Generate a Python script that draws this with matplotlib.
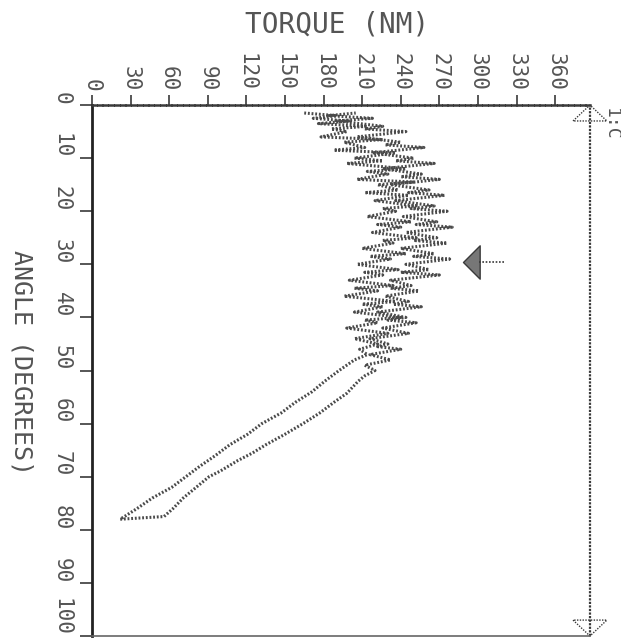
import numpy as np
import matplotlib.pyplot as plt
from matplotlib.path import Path

# torque vs angle (outgoing and return branch)
ang_out = [1.5, 2, 2.5, 3, 3.5, 4, 4.5, 5, 6, 6.5, 7, 8, 8.5, 9, 10, 10.5, 11, 12, 12.5,
           13, 14, 14.5, 15, 16, 16.5, 17, 18, 19, 19.5, 20, 21, 22, 22.5, 23, 24, 25,
           25.5, 26, 27, 28, 28.5, 29, 30, 31, 31.5, 32, 33, 34, 34.5, 35, 36, 37, 37.5,
           38, 39, 40, 40.5, 41, 42, 43, 44, 45, 46, 47, 48, 49, 50, 52, 54, 56, 58, 60,
           62, 64, 66, 68, 70, 72, 74, 76, 78]
torque_out = [165, 190, 172, 200, 176, 214, 186, 198, 178, 226, 196, 212, 188, 236, 204,
              226, 198, 244, 214, 230, 206, 250, 222, 238, 212, 246, 220, 252, 226, 236,
              214, 248, 222, 240, 218, 252, 226, 234, 210, 244, 216, 232, 206, 238, 212,
              226, 200, 234, 204, 222, 196, 236, 210, 226, 204, 240, 212, 222, 198, 230,
              204, 222, 208, 214, 204, 198, 192, 181, 171, 158, 147, 132, 121, 107, 96,
              84, 73, 62, 47, 35, 22]

ang_back = [78, 77.5, 76, 74, 72.6, 70, 68.9, 67, 65.5, 64, 62, 60, 58, 56, 54.3, 52, 51,
            50, 49, 48, 47, 46, 45.5, 45, 44, 43, 42, 41, 40.5, 40, 39, 38, 37.5, 37, 36,
            35, 34.5, 34, 33, 32, 31.5, 31, 30, 29, 28.5, 28, 27, 26, 25.5, 25, 24, 23,
            22.5, 22, 21, 20, 19.5, 19, 18, 17, 16.5, 16, 15, 14, 13.5, 13, 12, 11, 10.5,
            10, 9, 8, 7.5, 7, 6, 5, 4.5, 4, 3, 2.5, 2, 1.5]
torque_back = [22, 56, 63, 71, 78, 91, 100, 113, 125, 135, 150, 164, 177, 188, 198, 207,
               212, 220, 212, 232, 216, 240, 222, 230, 216, 246, 226, 252, 230, 244, 222,
               256, 234, 246, 228, 254, 232, 248, 232, 270, 240, 262, 244, 278, 250, 266,
               240, 276, 250, 268, 244, 280, 252, 268, 242, 276, 248, 266, 236, 274, 246,
               262, 232, 270, 240, 256, 226, 266, 236, 250, 218, 258, 228, 240, 206, 244,
               212, 226, 190, 218, 184, 205]

peak_angle = 29.6
peak_torque = 288
cursor_end = 321

torque_ticks = list(range(0, 361, 30))
angle_ticks = list(range(0, 101, 10))

ink = '#3a3a3a'
txt = '#555555'
mono = 'DejaVu Sans Mono'

fig = plt.figure(figsize=(6.21, 6.44), dpi=100)
ax = fig.add_axes([0.148, 0.0124, 0.802, 0.8245])

ax.plot(torque_out, ang_out, color='#4a4a4a', lw=2.2, ls=(0, (0.6, 0.6)))
ax.plot(torque_back, ang_back, color='#4a4a4a', lw=2.2, ls=(0, (0.6, 0.6)))

# peak cursor: triangle pointing at the curve plus a short line
tri = Path([(0, 0), (1, 1), (1, -1), (0, 0)],
           [Path.MOVETO, Path.LINETO, Path.LINETO, Path.CLOSEPOLY])
ax.plot([peak_torque], [peak_angle], marker=tri, ms=24, mfc='#777777', mec=ink, mew=1)
ax.plot([peak_torque + 13, cursor_end], [peak_angle, peak_angle], color=ink, lw=1.2,
        ls=(0, (1, 1)))

ax.set_xlim(0, 387)
ax.set_ylim(100, 0)
ax.xaxis.tick_top()
ax.set_xticks(torque_ticks)
ax.set_yticks(angle_ticks)
ax.set_xticklabels([str(t) for t in torque_ticks], rotation=-90, family=mono,
                   fontsize=15, color=txt)
ax.set_yticklabels([str(a) for a in angle_ticks], rotation=-90, family=mono,
                   fontsize=15, color=txt, va='bottom')
ax.tick_params(axis='x', direction='out', length=7, width=1.2, color=ink, pad=3)
ax.tick_params(axis='y', direction='out', length=8.5, width=1.2, color=ink, pad=6)

ax.spines['left'].set_linewidth(2)
ax.spines['left'].set_color('#222222')
ax.spines['top'].set_linewidth(1.8)
ax.spines['top'].set_linestyle((0, (1.5, 0.8)))
ax.spines['top'].set_color(ink)
ax.spines['bottom'].set_linewidth(1.2)
ax.spines['bottom'].set_linestyle((0, (1, 1)))
ax.spines['bottom'].set_color('#666666')
ax.spines['right'].set_visible(False)

# double headed arrow on the right edge
tr = ax.transAxes
ax.plot([1.0, 1.0], [0.0, 1.0], transform=tr, color=ink, lw=1.6, ls=(0, (1, 0.6)),
        clip_on=False)
ax.plot([0.966, 1.0, 1.034, 0.966], [0.97, 1.0, 0.97, 0.97], transform=tr, color=ink,
        lw=1, ls=(0, (1, 1)), clip_on=False)
ax.plot([0.966, 1.0, 1.034, 0.966], [0.03, 0.0, 0.03, 0.03], transform=tr, color=ink,
        lw=1, ls=(0, (1, 1)), clip_on=False)

fig.text(337 / 621, 1 - 25 / 644, 'TORQUE (NM)', family=mono, fontsize=20,
         color=txt, ha='center', va='center')
fig.text(21 / 621, 1 - 362 / 644, 'ANGLE (DEGREES)', family=mono, fontsize=18,
         color=txt, ha='center', va='center', rotation=-90)
fig.text(0.998, 1 - 108 / 644, '1:C', family=mono, fontsize=13, color=txt,
         ha='right', va='top', rotation=-90)

fig.savefig('out.png', dpi=100)
